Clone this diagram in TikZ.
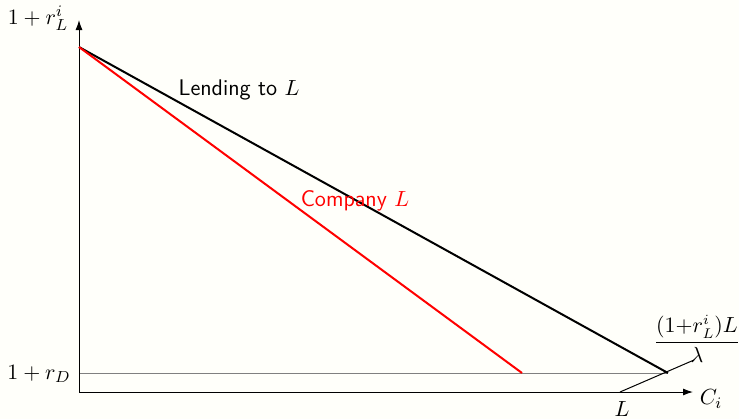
\documentclass[tikz,border=0pt]{standalone}
\usetikzlibrary{arrows.meta}
\definecolor{bg}{RGB}{255,255,250}
\begin{document}
\begin{tikzpicture}[x=0.5pt,y=-0.5pt,
  axis/.style={line width=0.5pt,-{Latex[length=5pt,width=3.5pt]}},
  mainline/.style={line width=1pt},
  lbl/.style={inner sep=0pt,font=\fontsize{11.3pt}{13.5pt}\selectfont}]
\fill[bg] (0,0) rectangle (739,419);
\useasboundingbox (0,0) rectangle (739,419);
\coordinate (O) at (79,392);
\coordinate (Yt) at (79,20);
\coordinate (Xe) at (693,392);
\coordinate (A) at (79,47);
\coordinate (B) at (668,373);
\coordinate (R) at (522,373);
\coordinate (D) at (79,373);
\coordinate (Lp) at (620,392);
\coordinate (Pe) at (694,360);
\draw[gray,line width=0.4pt] (D) -- (B);
\draw[axis] (O) -- (Yt);
\draw[axis] (O) -- (Xe);
\draw[mainline,black] (A) -- (B);
\draw[mainline,red] (A) -- (R);
\draw[line width=0.5pt] (Lp) -- (Pe);
\node[lbl] (ylab) at (38,18) {$1+r_L^i$};
\node[lbl] (dlab) at (39,374) {$1+r_D$};
\node[lbl] (xlab) at (711,399) {$C_i$};
\node[lbl] (Llab) at (622,409) {$L$};
\node[lbl,font=\fontsize{10.5pt}{12pt}\selectfont] (frac) at (697,339) {$\displaystyle\frac{\bigl(1{+}r_L^i\bigr)L}{\lambda}$};
\node[lbl] (lend) at (239,90) {\sffamily Lending to $L$};
\node[lbl,red] (comp) at (355,201) {\sffamily Company $L$};
\end{tikzpicture}
\end{document}
